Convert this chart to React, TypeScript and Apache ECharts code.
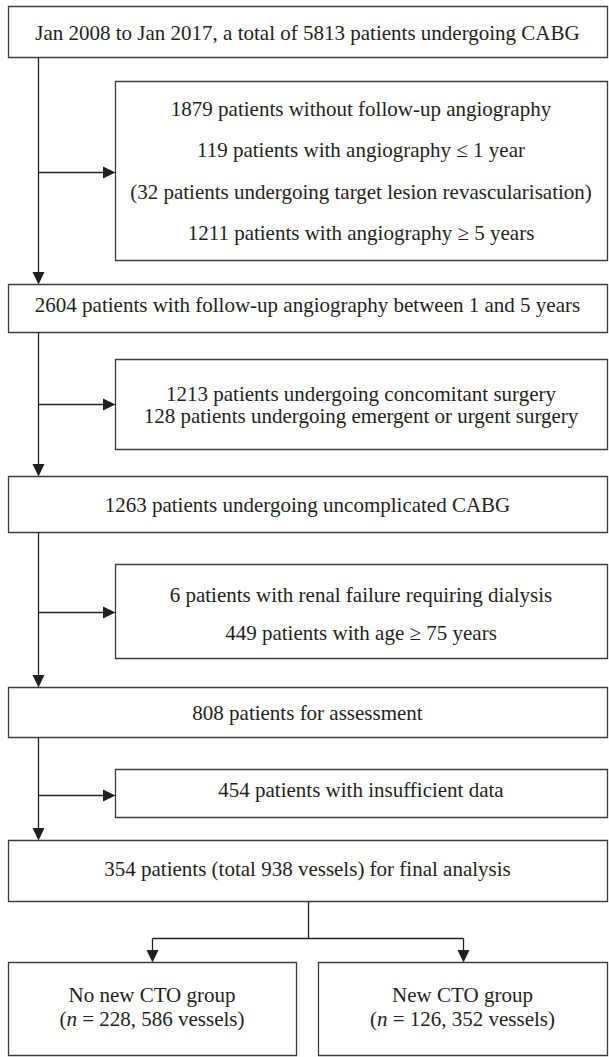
import React, { useEffect, useRef } from "react";
import * as echarts from "echarts";

// ---- Flowchart content ----
const mainSteps: string[] = [
  "Jan 2008 to Jan 2017, a total of 5813 patients undergoing CABG",
  "2604 patients with follow-up angiography between 1 and 5 years",
  "1263 patients undergoing uncomplicated CABG",
  "808 patients for assessment",
  "354 patients (total 938 vessels) for final analysis",
];

const exclusion1: string[] = [
  "1879 patients without follow-up angiography",
  "119 patients with angiography \u2264 1 year",
  "(32 patients undergoing target lesion revascularisation)",
  "1211 patients with angiography \u2265 5 years",
];
const exclusion2: string[] = [
  "1213 patients undergoing concomitant surgery",
  "128 patients undergoing emergent or urgent surgery",
];
const exclusion3: string[] = [
  "6 patients with renal failure requiring dialysis",
  "449 patients with age \u2265 75 years",
];
const exclusion4: string[] = ["454 patients with insufficient data"];
const exclusions: string[][] = [exclusion1, exclusion2, exclusion3, exclusion4];

const groupNames: string[] = ["No new CTO group", "New CTO group"];
const groupCounts: string[] = ["({i|n} = 228, 586 vessels)", "({i|n} = 126, 352 vessels)"];

// ---- Layout (pixels) ----
const W = 609;
const H = 1057;
const LEFT = 8;
const RIGHT = 607;
const MAIN_X = 38;
const EXCL_LEFT = 115;
const mainY: number[][] = [
  [6, 57],
  [284, 332],
  [476, 532],
  [687, 737],
  [840, 901],
];
const mainTextY: number[] = [33, 305, 505, 713, 869];
const exclY: number[][] = [
  [81, 260],
  [359, 449],
  [564, 658],
  [769, 817],
];
const exclTextY: number[][] = [
  [109, 150, 192, 233],
  [394, 416],
  [595, 633],
  [790],
];
const exclArrowY: number[] = [172, 404, 612, 795];
const splitY = 938;
const groupY: number[] = [962, 1055];
const groupTextY: number[] = [995, 1019];
const groupX: number[][] = [
  [8, 296],
  [318, 607],
];

const INK = "#231f20";
const BORDER = "#3c3c3c";
const FONT = "'Liberation Serif', 'Times New Roman', serif";
const FS = 21;
const AH = 12; // arrow head length
const AW = 6; // arrow half width

function textEl(x: number, y: number, text: string, extra: any = {}) {
  return {
    type: "text",
    style: {
      x,
      y,
      text,
      fill: INK,
      fontSize: FS,
      fontFamily: FONT,
      textAlign: "center",
      textVerticalAlign: "middle",
      align: "center",
      verticalAlign: "middle",
      ...extra,
    },
  };
}

function rectEl(x1: number, y1: number, x2: number, y2: number) {
  return {
    type: "rect",
    shape: { x: x1 + 0.5, y: y1 + 0.5, width: x2 - x1, height: y2 - y1 },
    style: { fill: "#fff", stroke: BORDER, lineWidth: 1.3 },
  };
}

function lineEl(x1: number, y1: number, x2: number, y2: number) {
  return {
    type: "line",
    shape: { x1: x1 + 0.5, y1: y1 + 0.5, x2: x2 + 0.5, y2: y2 + 0.5 },
    style: { stroke: INK, lineWidth: 1.3 },
  };
}

function arrowDown(x: number, y1: number, y2: number) {
  return [
    lineEl(x, y1, x, y2 - AH + 1),
    {
      type: "polygon",
      shape: {
        points: [
          [x + 0.5 - AW, y2 - AH],
          [x + 0.5 + AW, y2 - AH],
          [x + 0.5, y2 + 0.5],
        ],
      },
      style: { fill: INK },
    },
  ];
}

function arrowRight(x1: number, x2: number, y: number) {
  return [
    lineEl(x1, y, x2 - AH + 1, y),
    {
      type: "polygon",
      shape: {
        points: [
          [x2 - AH, y + 0.5 - AW],
          [x2 - AH, y + 0.5 + AW],
          [x2 + 0.5, y + 0.5],
        ],
      },
      style: { fill: INK },
    },
  ];
}

function buildGraphics() {
  const els: any[] = [];
  mainSteps.forEach((t, i) => {
    const [y1, y2] = mainY[i];
    els.push(rectEl(LEFT, y1, RIGHT, y2));
    els.push(textEl((LEFT + RIGHT) / 2, mainTextY[i], t));
  });
  for (let i = 0; i < mainY.length - 1; i++) {
    els.push(...arrowDown(MAIN_X, mainY[i][1], mainY[i + 1][0]));
  }
  exclusions.forEach((lines, i) => {
    const [y1, y2] = exclY[i];
    els.push(rectEl(EXCL_LEFT, y1, RIGHT, y2));
    lines.forEach((t, j) => {
      els.push(textEl((EXCL_LEFT + RIGHT) / 2, exclTextY[i][j], t));
    });
    els.push(...arrowRight(MAIN_X, EXCL_LEFT, exclArrowY[i]));
  });
  const lastBottom = mainY[mainY.length - 1][1];
  const midX = Math.round((LEFT + RIGHT) / 2);
  const gCenters = groupX.map((g) => Math.round((g[0] + g[1]) / 2));
  els.push(lineEl(midX, lastBottom, midX, splitY));
  els.push(lineEl(gCenters[0], splitY, gCenters[1], splitY));
  gCenters.forEach((cx) => els.push(...arrowDown(cx, splitY, groupY[0])));
  groupNames.forEach((name, i) => {
    const [x1, x2] = groupX[i];
    els.push(rectEl(x1, groupY[0], x2, groupY[1]));
    const cx = (x1 + x2) / 2;
    els.push(textEl(cx, groupTextY[0], name));
    els.push(
      textEl(cx, groupTextY[1], groupCounts[i], {
        rich: {
          i: { fontStyle: "italic", fontSize: FS, fontFamily: FONT, fill: INK },
        },
      })
    );
  });
  return els;
}

export default function App() {
  const ref = useRef<HTMLDivElement>(null);
  useEffect(() => {
    document.body.style.margin = "0";
    document.body.style.background = "#fff";
    if (!ref.current) return;
    const chart = echarts.init(ref.current, undefined, { renderer: "svg" });
    chart.setOption({
      animation: false,
      backgroundColor: "#fff",
      graphic: { elements: buildGraphics() },
    });
    return () => chart.dispose();
  }, []);
  return <div ref={ref} style={{ width: W, height: H }} />;
}
